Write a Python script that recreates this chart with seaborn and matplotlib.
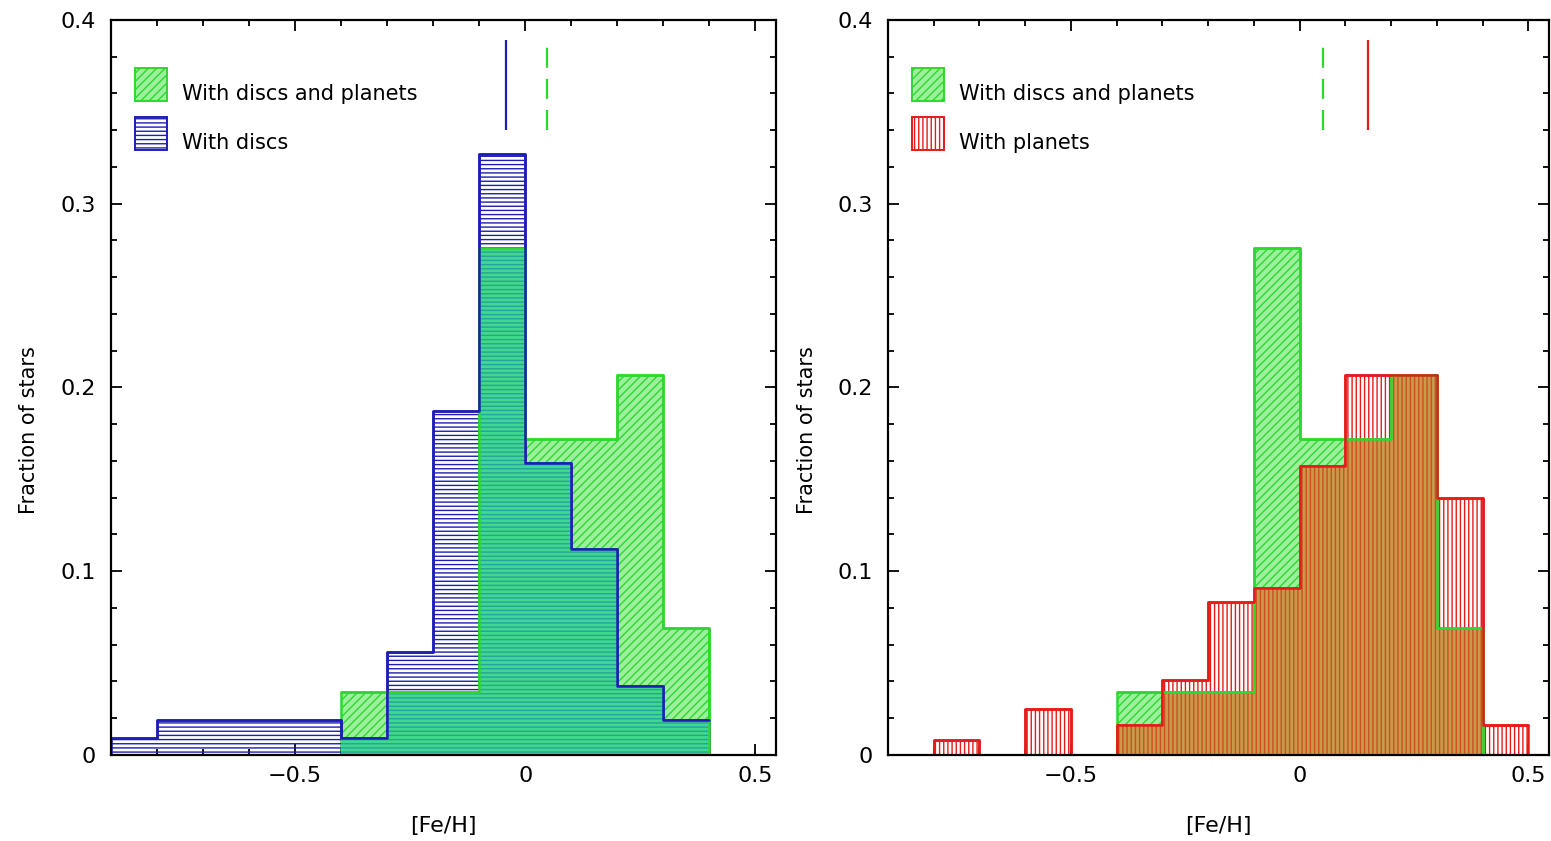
import numpy as np
import pandas as pd
import matplotlib
matplotlib.use("Agg")
import matplotlib.pyplot as plt
import seaborn as sns
from matplotlib.patches import Patch
from matplotlib.transforms import ScaledTranslation
from matplotlib.ticker import MultipleLocator, FixedLocator, FuncFormatter

# ---------------- data ----------------
edges_discs = [-0.9, -0.8, -0.7, -0.6, -0.5, -0.4, -0.3, -0.2, -0.1, 0.0, 0.1, 0.2, 0.3, 0.4]
frac_discs = [0.0093, 0.019, 0.019, 0.019, 0.019, 0.0093, 0.056, 0.187, 0.327, 0.159, 0.112, 0.0374, 0.019]

edges_dp = [-0.4, -0.3, -0.2, -0.1, 0.0, 0.1, 0.2, 0.3, 0.4, 0.5]
frac_dp = [0.0345, 0.0345, 0.0345, 0.276, 0.172, 0.172, 0.207, 0.069, 0.0]

edges_planets = [-0.9, -0.8, -0.7, -0.6, -0.5, -0.4, -0.3, -0.2, -0.1, 0.0, 0.1, 0.2, 0.3, 0.4, 0.5]
frac_planets = [0.0, 0.0083, 0.0, 0.0248, 0.0, 0.0165, 0.041, 0.083, 0.091, 0.157, 0.207, 0.207, 0.140, 0.0165]

mean_discs_left = -0.042
mean_dp_left = 0.047
mean_dp_right = 0.05
mean_planets = 0.15

label_dp = "With discs and planets"
label_discs = "With discs"
label_planets = "With planets"
xlabel = "[Fe/H]"
ylabel = "Fraction of stars"
xticks_major = [-0.5, 0.0, 0.5]

# ---------------- style ----------------
sns.set_theme(style="ticks")
plt.rcParams['font.family'] = ['DejaVu Sans']
plt.rcParams['hatch.linewidth'] = 1.0

GREEN_FACE = "#9cef9c"
GREEN_EDGE = "#2ed82e"
BLUE = "#1e1eb4"
RED = "#e61a1a"
TEAL_FACE = "#40d88e"
TEAL_HATCH = "#26a39a"
BROWN_FACE = "#c99a48"
BROWN_HATCH = "#cc5022"


def draw_hist(ax, edges, fracs, face, edge, hatch, lw, fill=True):
    centers = [(a + b) / 2 for a, b in zip(edges[:-1], edges[1:])]
    df = pd.DataFrame({"feh": centers, "frac": fracs})
    if fill:
        sns.histplot(data=df, x="feh", weights="frac", bins=edges, element="step",
                     fill=True, color=edge, facecolor=face, edgecolor=edge, hatch=hatch,
                     linewidth=lw, ax=ax)
    else:
        sns.histplot(data=df, x="feh", weights="frac", bins=edges, element="step",
                     fill=False, color=edge, linewidth=lw, ax=ax)


def overlap(edges_a, fracs_a, edges_b, fracs_b):
    ea = [round(e, 3) for e in edges_a]
    eb = [round(e, 3) for e in edges_b]
    lo = max(ea[0], eb[0])
    hi = min(ea[-1], eb[-1])
    ia0, ia1 = ea.index(lo), ea.index(hi)
    ib0 = eb.index(lo)
    n = ia1 - ia0
    fa = np.asarray(fracs_a[ia0:ia0 + n])
    fb = np.asarray(fracs_b[ib0:ib0 + n])
    return ea[ia0:ia1 + 1], list(np.minimum(fa, fb))


def style_axes(ax):
    ax.set_xlim(-0.9, 0.545)
    ax.set_ylim(0, 0.4)
    ax.xaxis.set_major_locator(FixedLocator(xticks_major))
    ax.xaxis.set_minor_locator(MultipleLocator(0.1))
    ax.yaxis.set_major_locator(MultipleLocator(0.1))
    ax.yaxis.set_minor_locator(MultipleLocator(0.02))
    fmt = FuncFormatter(lambda v, p: ("%g" % round(v, 3)).replace("-", "\u2212"))
    ax.xaxis.set_major_formatter(fmt)
    ax.yaxis.set_major_formatter(fmt)
    ax.tick_params(which="both", direction="in", top=True, right=True,
                   colors="black", labelsize=16, width=1.3)
    ax.tick_params(which="major", length=8)
    ax.tick_params(which="minor", length=4.5)
    ax.tick_params(axis="y", which="major", pad=11)
    ax.tick_params(axis="x", which="major", pad=8)
    for s in ax.spines.values():
        s.set_linewidth(1.6)
        s.set_color("black")
        s.set_zorder(5)
    ax.set_xlabel(xlabel, fontsize=16, color="black")
    ax.set_ylabel(ylabel, fontsize=15, color="black")
    ax.xaxis.set_label_coords(0.5, -0.083)
    ax.yaxis.set_label_coords(-0.108, 0.442)


fig = plt.figure(figsize=(15.51, 8.41), dpi=100)
ax1 = fig.add_axes([0.0716, 0.1023, 0.4288, 0.874])
ax2 = fig.add_axes([0.5725, 0.1023, 0.4262, 0.874])

# left panel
draw_hist(ax1, edges_dp, frac_dp, GREEN_FACE, GREEN_EDGE, "////", 1.8)
draw_hist(ax1, edges_discs, frac_discs, "none", BLUE, "----", 1.8)
ov_e, ov_f = overlap(edges_discs, frac_discs, edges_dp, frac_dp)
draw_hist(ax1, ov_e, ov_f, TEAL_FACE, TEAL_HATCH, "----", 0.0)
draw_hist(ax1, edges_dp, frac_dp, None, GREEN_EDGE, None, 1.8, fill=False)
draw_hist(ax1, edges_discs, frac_discs, None, BLUE, None, 1.8, fill=False)
ax1.vlines(mean_discs_left, 0.34, 0.389, color=BLUE, lw=1.6)
ax1.vlines(mean_dp_left, 0.34, 0.386, color=GREEN_EDGE, lw=1.6, linestyles=[(0, (9, 5))])

# right panel
draw_hist(ax2, edges_dp, frac_dp, GREEN_FACE, GREEN_EDGE, "////", 1.8)
draw_hist(ax2, edges_planets, frac_planets, "none", RED, "||||", 1.8)
ov_e, ov_f = overlap(edges_planets, frac_planets, edges_dp, frac_dp)
draw_hist(ax2, ov_e, ov_f, BROWN_FACE, BROWN_HATCH, "||||", 0.0)
draw_hist(ax2, edges_dp, frac_dp, None, GREEN_EDGE, None, 1.8, fill=False)
draw_hist(ax2, edges_planets, frac_planets, None, RED, None, 1.8, fill=False)
ax2.vlines(mean_dp_right, 0.34, 0.386, color=GREEN_EDGE, lw=1.6, linestyles=[(0, (9, 5))])
ax2.vlines(mean_planets, 0.34, 0.389, color=RED, lw=1.6)

for ax in (ax1, ax2):
    style_axes(ax)

h_dp = Patch(facecolor=GREEN_FACE, edgecolor=GREEN_EDGE, hatch="////", lw=1.4)
h_discs = Patch(facecolor="white", edgecolor=BLUE, hatch="----", lw=1.4)
h_planets = Patch(facecolor="white", edgecolor=RED, hatch="||||", lw=1.4)

leg_kw = dict(loc="upper left", bbox_to_anchor=(0.036, 0.935), frameon=False,
              fontsize=15, handlelength=1.55, handleheight=2.1, labelspacing=0.75,
              handletextpad=0.7, borderpad=0, borderaxespad=0)
for ax, handles, labels in ((ax1, [h_dp, h_discs], [label_dp, label_discs]),
                            (ax2, [h_dp, h_planets], [label_dp, label_planets])):
    leg = ax.legend(handles, labels, **leg_kw)
    for t in leg.get_texts():
        t.set_color("black")
        t.set_transform(t.get_transform() + ScaledTranslation(0, -0.09, fig.dpi_scale_trans))

fig.savefig("out.png", dpi=100)
